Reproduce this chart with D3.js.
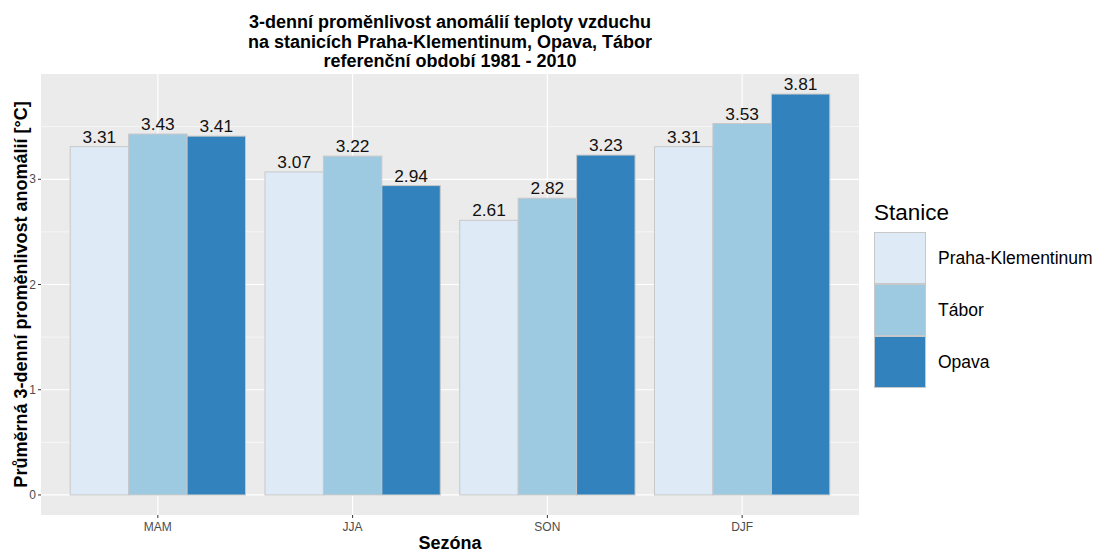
<!DOCTYPE html>
<html><head><meta charset="utf-8">
<script src="https://cdn.jsdelivr.net/npm/d3@7"></script>
<style>body{margin:0;background:#fff}svg{display:block}text{font-family:Arial,"Liberation Sans",sans-serif}</style>
</head><body><svg id="c" width="1095" height="553"></svg>
<script>
const seasons = ["MAM","JJA","SON","DJF"];
const stations = ["Praha-Klementinum","Tábor","Opava"];
const praha = [3.31,3.07,2.61,3.31];
const tabor = [3.43,3.22,2.82,3.53];
const opava = [3.41,2.94,3.23,3.81];
const colors = ["#deebf7","#9ecae1","#3182bd"];
const yTicks = [0,1,2,3];
const yMinor = [0.5,1.5,2.5,3.5];
const titleLines = ["3-denní proměnlivost anomálií teploty vzduchu","na stanicích Praha-Klementinum, Opava, Tábor","referenční období 1981 - 2010"];

const series = [praha,tabor,opava];
const svg = d3.select("#c");
const L=41,R=859,T=74,B=515;
const y = d3.scaleLinear().domain([-0.1905,4.0005]).range([B,T]);
const xc = d3.scaleLinear().domain([0.4,4.6]).range([L,R]);
const band = d3.scaleBand().domain(stations).range([-0.45,0.45]);

svg.append("rect").attr("x",L).attr("y",T).attr("width",R-L).attr("height",B-T).attr("fill","#ebebeb");
svg.selectAll(".ymin").data(yMinor).join("line").attr("x1",L).attr("x2",R).attr("y1",d=>y(d)).attr("y2",d=>y(d)).attr("stroke","#fff").attr("stroke-width",0.6);
svg.selectAll(".ymaj").data(yTicks).join("line").attr("x1",L).attr("x2",R).attr("y1",d=>y(d)).attr("y2",d=>y(d)).attr("stroke","#fff").attr("stroke-width",1.2);
svg.selectAll(".xmaj").data(seasons).join("line").attr("x1",(d,i)=>xc(i+1)).attr("x2",(d,i)=>xc(i+1)).attr("y1",T).attr("y2",B).attr("stroke","#fff").attr("stroke-width",1.2);

const bwid = xc(1+band.bandwidth())-xc(1);
stations.forEach((s,j)=>{
  const g = svg.append("g");
  seasons.forEach((se,i)=>{
    const v = series[j][i];
    const x0 = xc(i+1+band(s));
    g.append("rect").attr("x",x0).attr("y",y(v)).attr("width",bwid).attr("height",y(0)-y(v))
      .attr("fill",colors[j]).attr("stroke","#c8c8c8").attr("stroke-width",1);
    g.append("text").attr("x",x0+bwid/2).attr("y",y(v)-4).attr("text-anchor","middle")
      .attr("font-size",17.3).attr("fill","#111").text(v.toFixed(2));
  });
});

// y axis
yTicks.forEach(t=>{
  svg.append("line").attr("x1",L-3).attr("x2",L).attr("y1",y(t)).attr("y2",y(t)).attr("stroke","#333").attr("stroke-width",1);
  svg.append("text").attr("x",L-5).attr("y",y(t)).attr("dy","0.35em").attr("text-anchor","end").attr("font-size",12).attr("fill","#4d4d4d").text(t);
});
seasons.forEach((s,i)=>{
  svg.append("line").attr("x1",xc(i+1)).attr("x2",xc(i+1)).attr("y1",B).attr("y2",B+3).attr("stroke","#333");
  svg.append("text").attr("x",xc(i+1)).attr("y",531).attr("text-anchor","middle").attr("font-size",12).attr("fill","#4d4d4d").text(s);
});
svg.append("text").attr("x",(L+R)/2).attr("y",549).attr("text-anchor","middle").attr("font-size",18).attr("font-weight","bold").attr("fill","#000").text("Sezóna");
svg.append("text").attr("transform",`translate(27,${(T+B)/2}) rotate(-90)`).attr("text-anchor","middle").attr("font-size",18).attr("font-weight","bold").attr("fill","#000").text("Průměrná 3-denní proměnlivost anomálií [°C]");
titleLines.forEach((t,i)=>{
  svg.append("text").attr("x",(L+R)/2).attr("y",28+i*19.5).attr("text-anchor","middle").attr("font-size",18).attr("font-weight","bold").attr("fill","#000").text(t);
});
// legend
svg.append("text").attr("x",874).attr("y",220).attr("font-size",22.5).attr("fill","#000").text("Stanice");
stations.forEach((s,j)=>{
  const yy = 232+j*52;
  svg.append("rect").attr("x",874.5).attr("y",yy+0.5).attr("width",51).attr("height",51).attr("fill",colors[j]).attr("stroke","#c8c8c8");
  svg.append("text").attr("x",938).attr("y",yy+26).attr("dy","0.35em").attr("font-size",17.5).attr("fill","#000").text(s);
});
</script></body></html>
